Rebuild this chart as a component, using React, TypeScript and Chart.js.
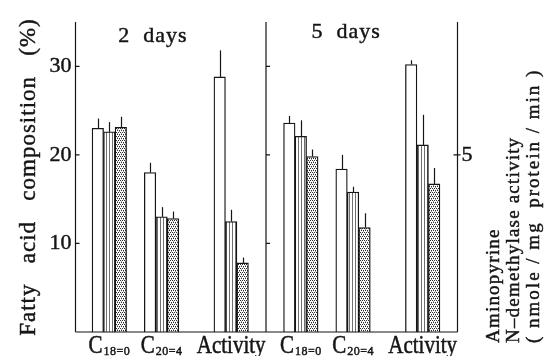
import React, { useEffect, useRef } from 'react';
import { Chart, registerables } from 'chart.js';

Chart.register(...registerables);

// ---- data ----
const panelTitles = ['2 days', '5 days'];
const groupLabels = ['C18=0', 'C20=4', 'Activity', 'C18=0', 'C20=4', 'Activity'];
// which axis each group is read on: fatty acid composition (%) on the left, activity on the right
const groupAxis = ['y', 'y', 'y2', 'y', 'y', 'y2'];

const whiteValues = [23.0, 18.0, 7.2, 23.6, 18.4, 7.55];
const stripedValues = [22.6, 13.0, 3.12, 22.1, 15.8, 5.28];
const dottedValues = [23.1, 12.8, 1.95, 19.8, 11.8, 4.18];

const whiteErrors = [1.1, 1.1, 0.75, 0.8, 1.6, 0.12];
const stripedErrors = [1.1, 1.1, 0.33, 1.8, 0.6, 0.85];
const dottedErrors = [1.2, 0.8, 0.15, 0.8, 1.6, 0.45];

const leftTicks = [10, 20, 30];
const rightTicks = [5];
const leftMax = 35;
const rightMax = 8.75;

const leftTitle = 'Fatty   acid   composition   (%)';
const rightTitle = ['Aminopyrine', 'N\u2013demethylase activity', '( nmole / mg  protein / min )'];

// ---- layout ----
const SLOT_COUNT = 23;
const GROUP_SLOTS = [2, 5, 9, 13, 16, 20];
const DIVIDER_SLOT = 11;
const PANEL_TITLE_SLOTS = [4.5, 15.6];

const FONT = '"Liberation Serif", "DejaVu Serif", serif';
const INK = '#151515';

function drawText(
  ctx: CanvasRenderingContext2D,
  text: string,
  x: number,
  y: number,
  o: { size: number; align?: CanvasTextAlign; baseline?: CanvasTextBaseline; rotate?: number; sy?: number; spacing?: number }
) {
  ctx.save();
  ctx.translate(x, y);
  if (o.rotate) ctx.rotate(o.rotate);
  if (o.sy) ctx.scale(1, o.sy);
  ctx.font = `${o.size}px ${FONT}`;
  (ctx as any).letterSpacing = `${o.spacing || 0}px`;
  ctx.textAlign = o.align || 'left';
  ctx.textBaseline = o.baseline || 'alphabetic';
  ctx.fillStyle = INK;
  ctx.strokeStyle = INK;
  ctx.lineWidth = 0.45;
  ctx.fillText(text, 0, 0);
  ctx.strokeText(text, 0, 0);
  ctx.restore();
}

function makeStripe(): CanvasPattern | string {
  const c = document.createElement('canvas');
  c.width = 3;
  c.height = 4;
  const g = c.getContext('2d')!;
  g.fillStyle = '#ffffff';
  g.fillRect(0, 0, 3, 4);
  g.fillStyle = '#707070';
  g.fillRect(1, 0, 1, 4);
  return g.createPattern(c, 'repeat') || '#ccc';
}

function makeDots(): CanvasPattern | string {
  const c = document.createElement('canvas');
  c.width = 4;
  c.height = 4;
  const g = c.getContext('2d')!;
  g.fillStyle = '#ffffff';
  g.fillRect(0, 0, 4, 4);
  g.fillStyle = '#2a2a2a';
  g.fillRect(0, 0, 1, 1);
  g.fillRect(2, 0, 1, 1);
  g.fillRect(1, 2, 1, 1);
  g.fillRect(3, 2, 1, 1);
  g.fillStyle = '#9a9a9a';
  g.fillRect(1, 1, 1, 1);
  g.fillRect(3, 3, 1, 1);
  return g.createPattern(c, 'repeat') || '#888';
}

function slotData(values: number[], axis: string): (number | null)[] {
  const arr: (number | null)[] = new Array(SLOT_COUNT).fill(null);
  GROUP_SLOTS.forEach((s, g) => {
    if (groupAxis[g] === axis) arr[s] = values[g];
  });
  return arr;
}

const errorBarPlugin = {
  id: 'errorBars',
  afterDatasetsDraw(chart: any) {
    const ctx: CanvasRenderingContext2D = chart.ctx;
    ctx.save();
    ctx.strokeStyle = INK;
    ctx.lineWidth = 1.2;
    chart.data.datasets.forEach((ds: any, d: number) => {
      const meta = chart.getDatasetMeta(d);
      const yScale = chart.scales[ds.yAxisID];
      meta.data.forEach((el: any, i: number) => {
        const v = ds.data[i];
        const e = ds.errors[i];
        if (v == null || e == null) return;
        const top = yScale.getPixelForValue(v + e);
        const x = Math.round(el.x) + 0.5;
        ctx.beginPath();
        ctx.moveTo(x, el.y);
        ctx.lineTo(x, top);
        ctx.stroke();
      });
    });
    ctx.restore();
  },
};

const framePlugin = {
  id: 'frame',
  afterDraw(chart: any) {
    const ctx: CanvasRenderingContext2D = chart.ctx;
    const ca = chart.chartArea;
    const xs = chart.scales.x;
    const y = chart.scales.y;
    const y2 = chart.scales.y2;
    const leftX = ca.left + 1;
    const divX = xs.getPixelForValue(DIVIDER_SLOT);
    const rightX = ca.right;

    ctx.save();
    ctx.strokeStyle = INK;
    ctx.lineWidth = 1.2;
    ctx.beginPath();
    ctx.moveTo(leftX, ca.top);
    ctx.lineTo(leftX, ca.bottom);
    ctx.moveTo(divX, ca.top);
    ctx.lineTo(divX, ca.bottom);
    ctx.moveTo(rightX, ca.top);
    ctx.lineTo(rightX, ca.bottom);
    ctx.moveTo(leftX, ca.bottom);
    ctx.lineTo(rightX, ca.bottom);
    leftTicks.forEach((t) => {
      const py = y.getPixelForValue(t);
      ctx.moveTo(leftX, py);
      ctx.lineTo(leftX + 4, py);
      ctx.moveTo(divX, py);
      ctx.lineTo(divX + 4, py);
    });
    rightTicks.forEach((t) => {
      const py = y2.getPixelForValue(t);
      ctx.moveTo(rightX - 4, py);
      ctx.lineTo(rightX + 3, py);
    });
    ctx.stroke();
    ctx.restore();

    // tick labels
    leftTicks.forEach((t) => {
      drawText(ctx, String(t), leftX - 4, y.getPixelForValue(t), { size: 22, align: 'right', baseline: 'middle' });
    });
    rightTicks.forEach((t) => {
      drawText(ctx, String(t), rightX + 4, y2.getPixelForValue(t), { size: 22, align: 'left', baseline: 'middle' });
    });

    // panel titles
    const titleBaselines = [42, 38];
    panelTitles.forEach((t, i) => {
      const parts = t.split(' ');
      drawText(ctx, parts.join('  '), xs.getPixelForValue(PANEL_TITLE_SLOTS[i]), titleBaselines[i], {
        size: 22,
        align: 'center',
        spacing: 1,
      });
    });

    // category labels with subscripts
    groupLabels.forEach((lab, g) => {
      const cx = xs.getPixelForValue(GROUP_SLOTS[g]);
      const m = /^C(.+)$/.exec(lab);
      const base = 353;
      if (m) {
        ctx.save();
        ctx.font = `21px ${FONT}`;
        const mw = ctx.measureText('C').width;
        ctx.font = `12px ${FONT}`;
        (ctx as any).letterSpacing = '0.5px';
        const sw = ctx.measureText(m[1]).width;
        ctx.restore();
        const start = cx - (mw + 1 + sw) / 2;
        drawText(ctx, 'C', start, base, { size: 21, sy: 1.15 });
        drawText(ctx, m[1], start + mw + 1, base + 2, { size: 12, spacing: 0.5 });
      } else {
        drawText(ctx, lab, cx, base, { size: 21, align: 'center', sy: 1.15 });
      }
    });

    // axis titles
    drawText(ctx, leftTitle, 35, (ca.top + ca.bottom) / 2, {
      size: 23,
      align: 'center',
      rotate: -Math.PI / 2,
      spacing: 1,
    });
    const rightBaselines = [499, 519, 539];
    rightTitle.forEach((line, i) => {
      drawText(ctx, line, rightBaselines[i], 343, {
        size: 19,
        align: 'left',
        rotate: -Math.PI / 2,
        spacing: i === 2 ? 2 : 1.2,
      });
    });
  },
};

export default function App() {
  const ref = useRef<HTMLCanvasElement | null>(null);

  useEffect(() => {
    document.body.style.margin = '0';
    const canvas = ref.current;
    if (!canvas) return;
    const stripe = makeStripe();
    const dots = makeDots();
    const series = [
      { name: 'white', values: whiteValues, errors: whiteErrors, fill: '#ffffff', stack: 'a' },
      { name: 'striped', values: stripedValues, errors: stripedErrors, fill: stripe, stack: 'b' },
      { name: 'dotted', values: dottedValues, errors: dottedErrors, fill: dots, stack: 'c' },
    ];
    const datasets: any[] = [];
    series.forEach((s) => {
      ['y', 'y2'].forEach((axis) => {
        datasets.push({
          label: `${s.name}-${axis}`,
          data: slotData(s.values, axis),
          errors: slotData(s.errors, axis),
          yAxisID: axis,
          stack: s.stack,
          backgroundColor: s.fill,
          borderColor: INK,
          borderWidth: 1.3,
          borderSkipped: 'bottom',
          barThickness: 11.5,
        });
      });
    });

    const chart = new Chart(canvas, {
      type: 'bar',
      data: {
        labels: new Array(SLOT_COUNT).fill(''),
        datasets,
      },
      options: {
        responsive: false,
        animation: false,
        devicePixelRatio: 1,
        layout: { padding: { left: 74.5, right: 95.5, top: 22, bottom: 24 } },
        plugins: { legend: { display: false }, tooltip: { enabled: false } },
        scales: {
          x: { type: 'category', offset: false, display: false },
          y: { type: 'linear', min: 0, max: leftMax, stacked: false, display: false },
          y2: { type: 'linear', min: 0, max: rightMax, stacked: false, display: false },
        },
      } as any,
      plugins: [errorBarPlugin, framePlugin],
    });
    return () => chart.destroy();
  }, []);

  return (
    <div style={{ width: 553, height: 356, background: '#fff' }}>
      <canvas ref={ref} width={553} height={356} style={{ display: 'block' }} />
    </div>
  );
}
